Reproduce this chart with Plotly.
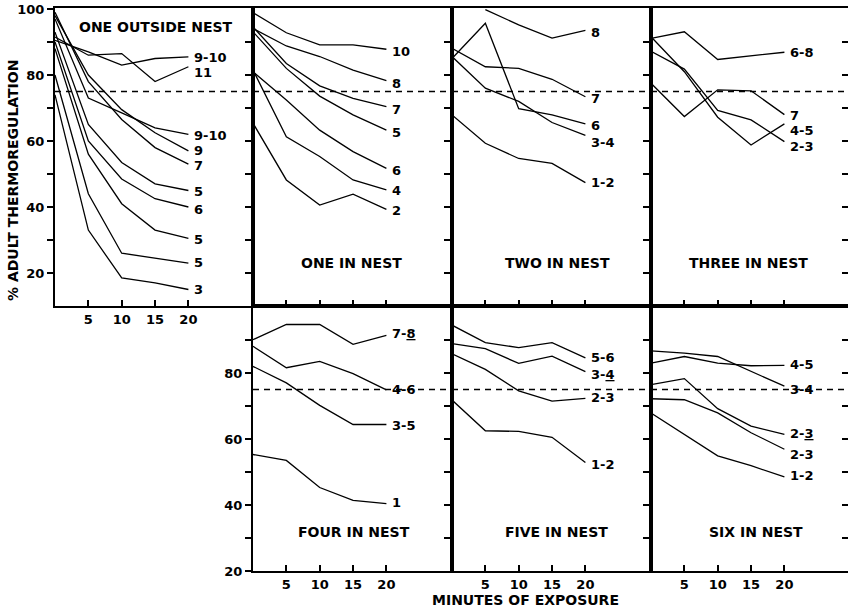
import plotly.graph_objects as go

# ---------------- data ----------------
MINUTES = [0, 5, 10, 15, 20]
THRESHOLD = 75

P1_TITLE = "ONE OUTSIDE NEST"
P1_LABELS = ["9-10", "11", "9-10", "9", "7", "5", "6", "5", "5", "3"]
P1_VALUES = [
    [90.5, 87, 83, 85, 85.5],
    [91.5, 86, 86.5, 78, 82.5],
    [97, 73, 68.5, 64, 62],
    [98, 80, 69.5, 62.5, 57],
    [99, 78, 66.5, 58, 53],
    [93, 65, 53.5, 47, 45],
    [90, 60, 48.5, 42.5, 40],
    [88, 56, 41, 33, 30.5],
    [80, 44, 26, 24.5, 23],
    [74, 33, 18.5, 17, 15],
]
P1_LABEL_Y = [85.4, 80.8, 61.8, 57.2, 52.6, 44.6, 39.3, 30.3, 23.3, 14.9]

P2_TITLE = "ONE IN NEST"
P2_LABELS = ["10", "8", "7", "5", "6", "4", "2"]
P2_VALUES = [
    [98.9, 92.8, 89.1, 89.1, 87.8],
    [94.1, 88.8, 85.6, 81.5, 78.3],
    [94.6, 83.5, 76.7, 72.9, 70.4],
    [93.1, 82, 73.6, 67.9, 63.3],
    [81, 72.4, 63.3, 56.8, 51.7],
    [81.5, 61.3, 55.3, 48.2, 45.2],
    [65.4, 48.2, 40.6, 43.9, 39.3],
]
P2_LABEL_Y = [87.1, 77.3, 69.6, 62.5, 51.2, 44.9, 38.9]

P3_TITLE = "TWO IN NEST"
P3_LABELS = ["8", "7", "6", "3-4", "1-2"]
P3_VALUES = [
    [None, 99.8, 95.2, 91.2, 93.5],
    [88.1, 82.5, 82, 78.7, 73.4],
    [85, 95.7, 69.8, 67.9, 65.2],
    [85.6, 76, 72, 65.6, 61.7],
    [67.9, 59.3, 54.7, 53.2, 47.4],
]
P3_LABEL_Y = [92.8, 72.9, 64.7, 59.6, 47.4]

P4_TITLE = "THREE IN NEST"
P4_LABELS = ["6-8", "7", "4-5", "2-3"]
P4_VALUES = [
    [91.1, 93.1, 84.7, 85.7, 86.9],
    [77.5, 67.4, 75.5, 75.2, 68],
    [91.6, 81, 67.2, 58.8, 65.2],
    [87.2, 81.8, 69.3, 66.4, 59.8],
]
P4_LABEL_Y = [86.9, 67.8, 63.2, 58.2]

P5_TITLE = "FOUR IN NEST"
P5_LABELS = ["7-<u>8</u>", "4-6", "3-5", "1"]
P5_VALUES = [
    [90.1, 94.7, 94.7, 88.7, 91.4],
    [88.1, 81.6, 83.5, 79.8, 74.9],
    [82, 77, 70.2, 64.4, 64.4],
    [55.3, 53.5, 45.3, 41.4, 40.4],
]
P5_LABEL_Y = [91.9, 75, 64.1, 40.9]

P6_TITLE = "FIVE IN NEST"
P6_LABELS = ["5-6", "3-<u>4</u>", "2-3", "1-2"]
P6_VALUES = [
    [94.5, 89.2, 87.7, 89.2, 84.6],
    [88.9, 87.4, 82.9, 85.1, 80.4],
    [85.8, 81.1, 74.6, 71.5, 72.3],
    [71.8, 62.5, 62.3, 60.5, 52.9],
]
P6_LABEL_Y = [84.6, 79.4, 72.5, 52.4]

P7_TITLE = "SIX IN NEST"
P7_LABELS = ["4-5", "3-4", "2-<u>3</u>", "2-3", "1-2"]
P7_VALUES = [
    [83, 85, 83, 82.2, 82.3],
    [86.7, 86, 85, 80.5, 76],
    [76.5, 78.3, 69.2, 63.9, 61.4],
    [72.2, 71.9, 67.9, 61.9, 56.9],
    [67.9, 61.4, 54.9, 51.9, 48.5],
]
P7_LABEL_Y = [82.5, 75, 61.6, 55.3, 48.8]

Y_TITLE = "% ADULT THERMOREGULATION"
X_TITLE = "MINUTES OF EXPOSURE"
X_TICKS = [5, 10, 15, 20]

# ---------------- layout geometry ----------------
W, H = 848, 611
PXU_X = 6.67   # px per minute
PXU_Y = 3.3    # px per percent
FONT = "DejaVu Sans"

TOP = (8, 306, 10)      # top px, bottom px, y at bottom
BOT = (306, 571, 20)

panels = [
    dict(title=P1_TITLE, labels=P1_LABELS, values=P1_VALUES, ly=P1_LABEL_Y,
         xpx=(55, 253), row=TOP, tpos=(15.1, 94.6), ytick=list(range(20, 101, 10)),
         ylab=True, xlab=True),
    dict(title=P2_TITLE, labels=P2_LABELS, values=P2_VALUES, ly=P2_LABEL_Y,
         xpx=(253, 452), row=TOP, tpos=(14.7, 23), ytick=list(range(20, 100, 10)),
         ylab=False, xlab=False),
    dict(title=P3_TITLE, labels=P3_LABELS, values=P3_VALUES, ly=P3_LABEL_Y,
         xpx=(452, 651), row=TOP, tpos=(15.8, 23), ytick=list(range(20, 100, 10)),
         ylab=False, xlab=False),
    dict(title=P4_TITLE, labels=P4_LABELS, values=P4_VALUES, ly=P4_LABEL_Y,
         xpx=(651, 848), row=TOP, tpos=(14.6, 23), ytick=list(range(20, 100, 10)),
         ylab=False, xlab=False, right=True),
    dict(title=P5_TITLE, labels=P5_LABELS, values=P5_VALUES, ly=P5_LABEL_Y,
         xpx=(253, 452), row=BOT, tpos=(15.1, 31.8), ytick=list(range(20, 100, 10)),
         ylab=True, xlab=True),
    dict(title=P6_TITLE, labels=P6_LABELS, values=P6_VALUES, ly=P6_LABEL_Y,
         xpx=(452, 651), row=BOT, tpos=(15.6, 31.8), ytick=list(range(30, 100, 10)),
         ylab=False, xlab=True),
    dict(title=P7_TITLE, labels=P7_LABELS, values=P7_VALUES, ly=P7_LABEL_Y,
         xpx=(651, 848), row=BOT, tpos=(15.7, 31.8), ytick=list(range(30, 100, 10)),
         ylab=False, xlab=True, right=True),
]

fig = go.Figure()
layout = dict(width=W, height=H, margin=dict(l=0, r=0, t=0, b=0),
              paper_bgcolor="white", plot_bgcolor="white", showlegend=False,
              font=dict(family=FONT, color="black", size=13))
annotations = []
shapes = []
extra = 8
LABEL_X = 20.6

for i, p in enumerate(panels):
    n = i + 1
    xs = "" if n == 1 else str(n)
    xref, yref = "x" + xs, "y" + xs
    x0, x1 = p["xpx"]
    top, bot, ybase = p["row"]
    xrange = [0, (x1 - x0) / PXU_X]
    yrange = [ybase, ybase + (bot - top) / PXU_Y]
    layout["xaxis" + xs] = dict(
        domain=[x0 / W, x1 / W], range=xrange, anchor=yref,
        showline=True, linecolor="black", linewidth=2, mirror=True,
        ticks="inside", tickvals=X_TICKS, ticklen=6, tickwidth=2, tickcolor="black",
        showticklabels=p["xlab"], tickfont=dict(family=FONT, size=13, weight="bold"),
        showgrid=False, zeroline=False, automargin=False, fixedrange=True)
    ytext = [str(v) if (v % 20 == 0) else "" for v in p["ytick"]]
    layout["yaxis" + xs] = dict(
        domain=[1 - bot / H, 1 - top / H], range=yrange, anchor=xref,
        showline=True, linecolor="black", linewidth=2, mirror=True,
        ticks="outside", tickvals=p["ytick"], ticktext=ytext, ticklen=6, tickwidth=2,
        tickcolor="black", showticklabels=p["ylab"],
        tickfont=dict(family=FONT, size=13, weight="bold"),
        showgrid=False, zeroline=False, automargin=False, fixedrange=True)

    for vals in p["values"]:
        fig.add_trace(go.Scatter(x=MINUTES, y=vals, mode="lines",
                                 line=dict(color="black", width=1.3),
                                 xaxis=xref, yaxis=yref, hoverinfo="skip",
                                 connectgaps=False))
    for lab, ly in zip(p["labels"], p["ly"]):
        annotations.append(dict(x=LABEL_X, y=ly, xref=xref, yref=yref, text=lab,
                                showarrow=False, xanchor="left", yanchor="middle",
                                font=dict(family=FONT, size=13, weight="bold")))
    annotations.append(dict(x=p["tpos"][0], y=p["tpos"][1], xref=xref, yref=yref,
                            text=p["title"], showarrow=False, xanchor="center",
                            yanchor="middle",
                            font=dict(family=FONT, size=14, weight="bold")))
    shapes.append(dict(type="line", xref=xref + " domain", x0=0, x1=1,
                       yref=yref, y0=THRESHOLD, y1=THRESHOLD,
                       line=dict(color="black", width=1.3, dash="6px,5px")))

    if p.get("right"):
        ys = str(extra)
        layout["yaxis" + ys] = dict(
            overlaying=yref, side="right", anchor=xref, range=yrange,
            showline=False, ticks="inside", tickvals=p["ytick"], ticklen=6,
            tickwidth=2, tickcolor="black", showticklabels=False,
            showgrid=False, zeroline=False, automargin=False, fixedrange=True)
        fig.add_trace(go.Scatter(x=[], y=[], mode="lines", xaxis=xref,
                                 yaxis="y" + ys, hoverinfo="skip"))
        extra += 1

annotations.append(dict(x=13 / W, y=1 - 181 / H, xref="paper", yref="paper",
                        text=Y_TITLE, textangle=-90, showarrow=False,
                        xanchor="center", yanchor="middle",
                        font=dict(family=FONT, size=14, weight="bold")))
annotations.append(dict(x=525 / W, y=1 - 600 / H, xref="paper", yref="paper",
                        text=X_TITLE, showarrow=False, xanchor="center",
                        yanchor="middle",
                        font=dict(family=FONT, size=14, weight="bold")))

layout["annotations"] = annotations
layout["shapes"] = shapes
fig.update_layout(**layout)
fig.write_html(
    "out.html",
    config={"displayModeBar": False, "staticPlot": True},
    post_script="document.body.style.margin='0';document.body.style.overflow='hidden';",
)
